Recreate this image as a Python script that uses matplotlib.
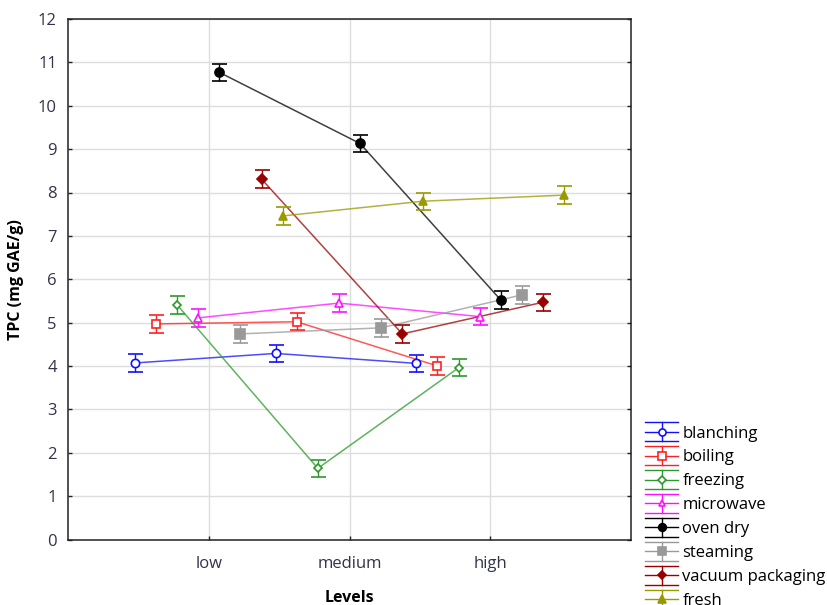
import matplotlib
matplotlib.use("Agg")
import matplotlib.pyplot as plt
from matplotlib.lines import Line2D
from matplotlib.legend_handler import HandlerBase
import numpy as np

# ---- data -------------------------------------------------------------
levels = ["low", "medium", "high"]
treatments = ["blanching", "boiling", "freezing", "microwave",
              "oven dry", "steaming", "vacuum packaging", "fresh"]

blanching = [4.07, 4.29, 4.06]
boiling = [4.97, 5.02, 4.00]
freezing = [5.41, 1.64, 3.96]
microwave = [5.11, 5.45, 5.14]
oven_dry = [10.77, 9.13, 5.52]
steaming = [4.74, 4.88, 5.64]
vacuum_packaging = [8.31, 4.74, 5.47]
fresh = [7.46, 7.80, 7.94]

# pooled standard error used for every mean
pooled_se = 0.2

series = [blanching, boiling, freezing, microwave,
          oven_dry, steaming, vacuum_packaging, fresh]

# ---- styling ----------------------------------------------------------
colors = ["#1010ff", "#ff2020", "#2a9a2a", "#ff10ff",
          "#000000", "#999999", "#990000", "#999900"]
markers = ["o", "s", "D", "^", "o", "s", "D", "^"]
hollow = [True, True, True, True, False, False, False, False]
msizes = [6.0, 6.0, 4.3, 5.8, 6.5, 6.5, 5.0, 6.0]

plt.rcParams["font.family"] = ["Open Sans", "DejaVu Sans"]
tick_color = "#33334a"


class CapHandler(HandlerBase):
    """Legend key: horizontal line with an error bar and full-width caps."""

    def create_artists(self, legend, orig_handle, xdescent, ydescent,
                       width, height, fontsize, trans):
        c = orig_handle.get_markeredgecolor()
        x0, x1 = -xdescent, width - xdescent
        xm = 0.5 * (x0 + x1)
        ym = 0.5 * height - ydescent
        dy = 0.57 * fontsize
        arts = [Line2D([x0, x1], [yy, yy], color=c, lw=1.0)
                for yy in (ym - dy, ym, ym + dy)]
        arts.append(Line2D([xm, xm], [ym - dy, ym + dy], color=c, lw=1.0))
        arts.append(Line2D([xm], [ym], ls="none",
                           marker=orig_handle.get_marker(),
                           ms=orig_handle.get_markersize() * 0.85,
                           mfc=orig_handle.get_markerfacecolor(),
                           mec=c, mew=orig_handle.get_markeredgewidth()))
        for a in arts:
            a.set_transform(trans)
        return arts


fig = plt.figure(figsize=(8.27, 6.05), dpi=100)
ax = fig.add_axes([68 / 827, 1 - 539.5 / 605, (631 - 68) / 827, (539.5 - 19) / 605])

base = np.arange(1, len(levels) + 1)
n = len(series)
handles = []
for i, (vals, name) in enumerate(zip(series, treatments)):
    x = base + (i - (n - 1) / 2) * 0.15
    ax.plot(x, vals, color=colors[i], lw=1.1, alpha=0.75, zorder=2)
    eb = ax.errorbar(x, vals, yerr=pooled_se, fmt=markers[i], color=colors[i],
                     ms=msizes[i], mec=colors[i],
                     mfc="white" if hollow[i] else colors[i], mew=1.2,
                     elinewidth=1.0, capsize=5.4, capthick=1.0, zorder=3)
    handles.append(eb.lines[0])

ax.set_xlim(0, 4)
ax.set_ylim(0, 12)
ax.set_xticks(base)
ax.set_xticklabels(levels)
ax.set_yticks(np.arange(0, 13, 1))
ax.grid(True, color="#dddddd", lw=1.0, zorder=0)
ax.set_axisbelow(True)

for sp in ax.spines.values():
    sp.set_linewidth(1.1)
    sp.set_color("#222222")

ax.tick_params(axis="both", direction="in", length=3, width=1.0,
               labelsize=12, labelcolor=tick_color, color="#222222")
ax.tick_params(axis="y", right=True, pad=8)
ax.tick_params(axis="x", pad=12)

ax.set_xlabel("Levels", fontsize=11.5, fontweight="bold", labelpad=13)
ax.set_ylabel("TPC (mg GAE/g)", fontsize=11.5, fontweight="bold", labelpad=10)

fig.legend(handles, treatments, handler_map={Line2D: CapHandler()},
           loc="upper left", bbox_to_anchor=(645 / 827, 1 - 425.5 / 605),
           frameon=False, borderpad=0, borderaxespad=0, fontsize=12,
           handlelength=2.0, handletextpad=0.25, labelspacing=0.475)

fig.savefig("out.png", dpi=100)
